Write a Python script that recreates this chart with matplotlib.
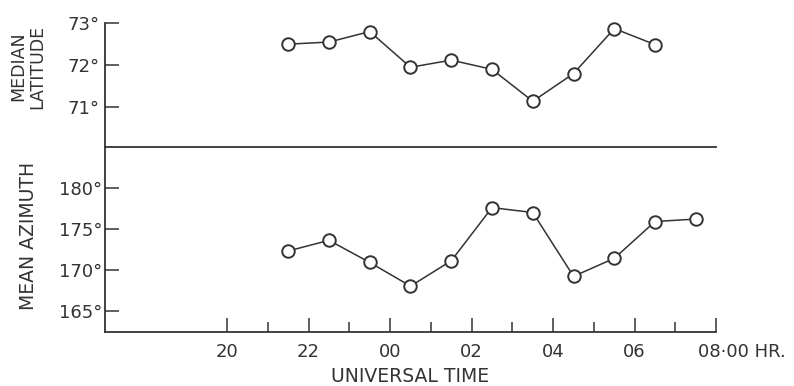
#! /usr/bin/env python3
import numpy as np
from matplotlib import pyplot as plt
from matplotlib import transforms

# universal time in hours, counted on from 20 so that 00 = 24, 08 = 32
lat_hours = [21.5, 22.5, 23.5, 24.5, 25.5, 26.5, 27.5, 28.5, 29.5, 30.5]
median_latitude = [72.5, 72.55, 72.8, 71.95, 72.12, 71.9, 71.14, 71.8, 72.87, 72.49]

azi_hours = [21.5, 22.5, 23.5, 24.5, 25.5, 26.5, 27.5, 28.5, 29.5, 30.5, 31.5]
mean_azimuth = [172.3, 173.6, 170.9, 168.0, 171.1, 177.6, 177.0, 169.2, 171.4, 175.9, 176.2]

hour_ticks = [20, 22, 24, 26, 28, 30, 32]
hour_labels = ["20", "22", "00", "02", "04", "06", "08·00 HR."]
minor_hours = [21, 23, 25, 27, 29, 31]

lat_ticks = [71, 72, 73]
lat_labels = ["71°", "72°", "73°"]
azi_ticks = [165, 170, 175, 180]
azi_labels = ["165°", "170°", "175°", "180°"]

ink = "#333333"
plt.rcParams["font.family"] = "DejaVu Sans"
plt.rcParams["text.color"] = ink

fig = plt.figure(figsize=(7.94, 3.86), dpi=100)
left, right = 0.132, 0.902
ax_bot = fig.add_axes([left, 0.140, right - left, 0.619 - 0.140])
ax_top = fig.add_axes([left, 0.619, right - left, 0.940 - 0.619])
ax_top.patch.set_visible(False)
ax_bot.patch.set_visible(False)

line_kw = dict(color=ink, lw=1.1, marker="o", ms=9, mfc="white",
               mec=ink, mew=1.4, clip_on=False, zorder=3)

# top panel: median latitude
ax_top.plot(lat_hours, median_latitude, **line_kw)
ax_top.set_xlim(17, 32)
ax_top.set_ylim(70.05, 73)
ax_top.set_yticks(lat_ticks)
ax_top.set_yticklabels(lat_labels, fontsize=13, color=ink)
ax_top.tick_params(axis="y", direction="in", length=10, width=1.1, pad=4, colors=ink)
ax_top.tick_params(axis="x", bottom=False, labelbottom=False)
for s in ["top", "right"]:
    ax_top.spines[s].set_visible(False)
for s in ["left", "bottom"]:
    ax_top.spines[s].set_color(ink)
    ax_top.spines[s].set_linewidth(1.3)
ax_top.set_ylabel("MEDIAN\nLATITUDE", fontsize=12.5, color=ink, linespacing=1.1)
ax_top.yaxis.set_label_coords(-0.095, 0.65)

# bottom panel: mean azimuth
ax_bot.plot(azi_hours, mean_azimuth, **line_kw)
ax_bot.set_xlim(17, 32)
ax_bot.set_ylim(162.4, 185)
ax_bot.set_yticks(azi_ticks)
ax_bot.set_yticklabels(azi_labels, fontsize=13, color=ink)
ax_bot.set_xticks(hour_ticks)
ax_bot.set_xticklabels(hour_labels, fontsize=13, color=ink)
ax_bot.set_xticks(minor_hours, minor=True)
ax_bot.tick_params(axis="y", direction="in", length=10, width=1.1, pad=2, colors=ink)
ax_bot.tick_params(axis="x", which="major", direction="in", length=10, width=1.1,
                   pad=8, colors=ink)
ax_bot.tick_params(axis="x", which="minor", direction="in", length=7, width=1.1,
                   colors=ink)
for s in ["top", "right"]:
    ax_bot.spines[s].set_visible(False)
for s in ["left", "bottom"]:
    ax_bot.spines[s].set_color(ink)
    ax_bot.spines[s].set_linewidth(1.3)
ax_bot.set_ylabel("MEAN AZIMUTH", fontsize=13.5, color=ink)
ax_bot.yaxis.set_label_coords(-0.11, 0.52)
ax_bot.set_xlabel("UNIVERSAL TIME", fontsize=13.5, color=ink, labelpad=4)

# last tick label reads on to the right of its tick
last = ax_bot.get_xticklabels()[-1]
last.set_horizontalalignment("left")
last.set_transform(last.get_transform()
                   + transforms.ScaledTranslation(-18 / 100, 0, fig.dpi_scale_trans))

fig.savefig("out.png", dpi=100)
